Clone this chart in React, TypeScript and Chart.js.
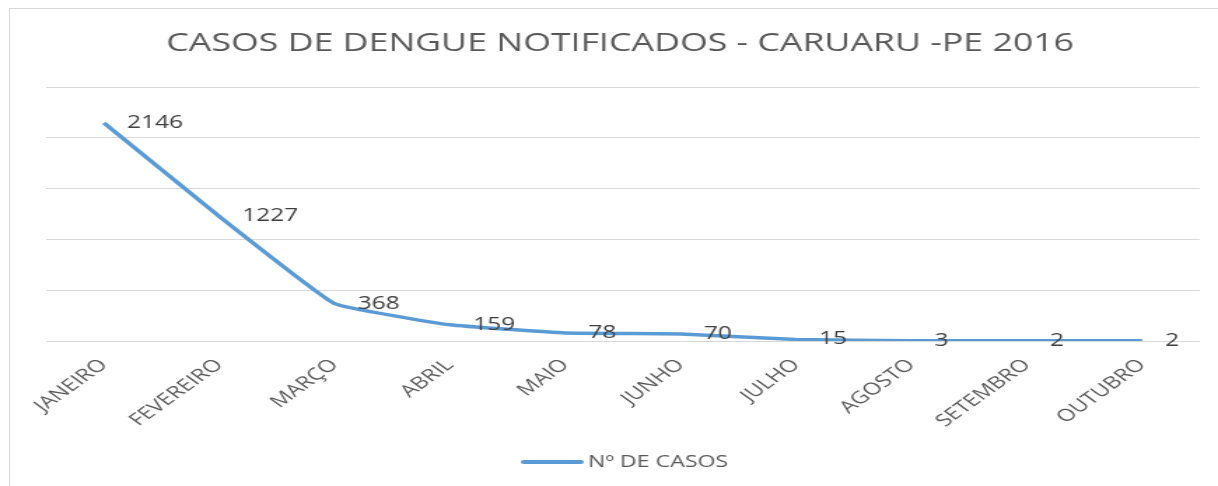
import React, { useEffect, useRef } from "react";
import { Chart, registerables } from "chart.js";

Chart.register(...registerables);

const TITLE = "CASOS DE DENGUE NOTIFICADOS - CARUARU -PE 2016";
const SERIES_NAME = "Nº DE CASOS";
const MONTHS = [
  "JANEIRO",
  "FEVEREIRO",
  "MARÇO",
  "ABRIL",
  "MAIO",
  "JUNHO",
  "JULHO",
  "AGOSTO",
  "SETEMBRO",
  "OUTUBRO",
];
const CASES = [2146, 1227, 368, 159, 78, 70, 15, 3, 2, 2];
const Y_MIN = 0;
const Y_MAX = 2500;
const Y_STEP = 500;

const LINE_COLOR = "#5b9bd5";
const FONT = "'Open Sans', 'DejaVu Sans', sans-serif";
// the reference picture is horizontally stretched: draw narrow, show wide
const VIEW_W = 1218;
const VIEW_H = 486;
const STRETCH = 1.4;
const CANVAS_W = Math.round(VIEW_W / STRETCH);

const overlayPlugin = {
  id: "overlay",
  afterDatasetsDraw(chart: any) {
    const ctx: CanvasRenderingContext2D = chart.ctx;
    const meta = chart.getDatasetMeta(0);
    ctx.save();
    // data labels
    ctx.font = `17.5px ${FONT}`;
    ctx.fillStyle = "#404040";
    ctx.textBaseline = "middle";
    ctx.textAlign = "left";
    meta.data.forEach((pt: any, i: number) => {
      ctx.fillText(String(CASES[i]), pt.x + 16.5, pt.y);
    });
    // title
    ctx.font = `25.5px ${FONT}`;
    ctx.fillStyle = "#595959";
    ctx.textAlign = "center";
    ctx.fillText(TITLE, 443, 44);
    // legend
    ctx.strokeStyle = LINE_COLOR;
    ctx.lineWidth = 4;
    ctx.lineCap = "round";
    ctx.beginPath();
    ctx.moveTo(374, 462);
    ctx.lineTo(415, 462);
    ctx.stroke();
    ctx.font = `16.5px ${FONT}`;
    ctx.fillStyle = "#595959";
    ctx.textAlign = "left";
    ctx.fillText(SERIES_NAME, 420, 462);
    ctx.restore();
  },
};

export default function App() {
  const ref = useRef<HTMLCanvasElement | null>(null);

  useEffect(() => {
    if (!ref.current) return;
    const chart = new Chart(ref.current, {
      type: "line",
      data: {
        labels: MONTHS,
        datasets: [
          {
            label: SERIES_NAME,
            data: CASES,
            borderColor: LINE_COLOR,
            backgroundColor: LINE_COLOR,
            borderWidth: 3.5,
            pointRadius: 0,
            tension: 0.1,
            fill: false,
          },
        ],
      },
      options: {
        responsive: false,
        animation: false,
        devicePixelRatio: 1,
        layout: { padding: { left: 33, right: 13, top: 87, bottom: 0 } },
        plugins: {
          legend: { display: false },
          title: { display: false },
          tooltip: { enabled: false },
        },
        scales: {
          x: {
            offset: true,
            grid: { display: false },
            border: { display: false },
            ticks: {
              color: "#595959",
              font: { family: FONT, size: 17 },
              minRotation: 45,
              maxRotation: 45,
              autoSkip: false,
              padding: 6,
            },
            afterFit: (scale: any) => {
              scale.height = 145;
            },
          },
          y: {
            min: Y_MIN,
            max: Y_MAX,
            ticks: { display: false, stepSize: Y_STEP },
            grid: { color: "#d9d9d9", lineWidth: 1, drawTicks: false },
            border: { display: false },
            afterFit: (scale: any) => {
              scale.width = 0;
            },
          },
        },
      },
      plugins: [overlayPlugin],
    });
    return () => chart.destroy();
  }, []);

  return (
    <div
      style={{
        position: "fixed",
        left: 0,
        top: 0,
        width: VIEW_W,
        height: VIEW_H,
        background: "#ffffff",
        overflow: "hidden",
      }}
    >
      <canvas
        ref={ref}
        width={CANVAS_W}
        height={VIEW_H}
        style={{ display: "block", width: VIEW_W, height: VIEW_H }}
      />
      <div
        style={{
          position: "absolute",
          left: 9,
          top: 8,
          width: 1230,
          height: 500,
          borderLeft: "1px solid #d9d9d9",
          borderTop: "1px solid #d9d9d9",
          pointerEvents: "none",
        }}
      />
    </div>
  );
}
